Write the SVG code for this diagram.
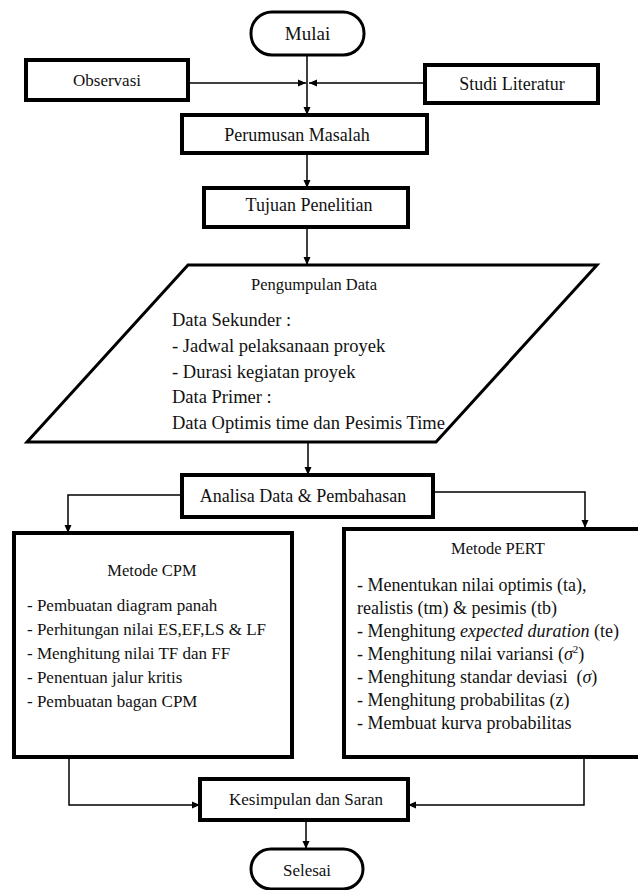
<svg xmlns="http://www.w3.org/2000/svg" width="638" height="890" viewBox="0 0 638 890">
<defs>
<marker id="ah" markerWidth="8" markerHeight="8" refX="8" refY="4" orient="auto" markerUnits="userSpaceOnUse">
<path d="M0,0.5 L8,4 L0,7.5 Z" fill="#000"/>
</marker>
<style>
.box{fill:#fff;stroke:#000;stroke-width:4}
.term{fill:#fff;stroke:#000;stroke-width:3}
.para{fill:#fff;stroke:#000;stroke-width:3}
.con{fill:none;stroke:#000;stroke-width:1.5}
.arr{marker-end:url(#ah)}
text{fill:#111}
.c{text-anchor:middle}
</style>
</defs>
<rect width="638" height="890" fill="#fff"/>
<g id="connectors">
<line class="con arr" x1="307" y1="55" x2="307" y2="115"/>
<line class="con arr" x1="188" y1="83" x2="306" y2="83"/>
<line class="con arr" x1="425" y1="83" x2="309" y2="83"/>
<line class="con arr" x1="307" y1="153" x2="307" y2="188"/>
<line class="con arr" x1="307" y1="227" x2="307" y2="265"/>
<line class="con arr" x1="308" y1="442" x2="308" y2="475"/>
<polyline class="con arr" points="182,495 68,495 68,533"/>
<polyline class="con arr" points="433,492 585,492 585,528"/>
<polyline class="con arr" points="69,757 69,805 200,805"/>
<polyline class="con arr" points="584,757 584,805 408,805"/>
<line class="con arr" x1="306" y1="820" x2="306" y2="849"/>
</g>
<g font-family="Liberation Serif, DejaVu Serif, serif">
<g id="mulai">
<rect class="term" x="251" y="12" width="113" height="43" rx="21" ry="21"/>
<text class="c" x="307.5" y="40" font-size="19">Mulai</text>
</g>
<g id="observasi">
<rect class="box" x="26" y="60" width="162" height="40"/>
<text class="c" x="107" y="86" font-size="17">Observasi</text>
</g>
<g id="studi-literatur">
<rect class="box" x="425" y="65" width="173" height="38"/>
<text class="c" x="512" y="90" font-size="18">Studi Literatur</text>
</g>
<g id="perumusan-masalah">
<rect class="box" x="182" y="115" width="245" height="38"/>
<text class="c" x="297" y="141" font-size="18">Perumusan Masalah</text>
</g>
<g id="tujuan-penelitian">
<rect class="box" x="204" y="188" width="204" height="39"/>
<text class="c" x="309" y="211" font-size="18">Tujuan Penelitian</text>
</g>
<g id="pengumpulan-data">
<polygon class="para" points="188,265 597,265 436,442 27,442"/>
<text class="c" x="314" y="290" font-size="16.5">Pengumpulan Data</text>
<text x="172" y="326" font-size="18.5">Data Sekunder :</text>
<text x="172" y="352" font-size="18.5">- Jadwal pelaksanaan proyek</text>
<text x="172" y="378" font-size="18.5">- Durasi kegiatan proyek</text>
<text x="172" y="403" font-size="18.5">Data Primer :</text>
<text x="172" y="429" font-size="18.5">Data Optimis time dan Pesimis Time</text>
</g>
<g id="analisa-data">
<rect class="box" x="182" y="475" width="251" height="42"/>
<text class="c" x="303" y="502" font-size="18">Analisa Data &amp; Pembahasan</text>
</g>
<g id="metode-cpm">
<rect class="box" x="14" y="533" width="278" height="224"/>
<text class="c" x="152" y="576" font-size="16.5">Metode CPM</text>
<text x="27" y="611" font-size="17">- Pembuatan diagram panah</text>
<text x="27" y="635" font-size="17">- Perhitungan nilai ES,EF,LS &amp; LF</text>
<text x="27" y="659" font-size="17">- Menghitung nilai TF dan FF</text>
<text x="27" y="683" font-size="17">- Penentuan jalur kritis</text>
<text x="27" y="707" font-size="17">- Pembuatan bagan CPM</text>
</g>
<g id="metode-pert">
<rect class="box" x="344" y="529" width="300" height="228"/>
<text class="c" x="498" y="554" font-size="16.5">Metode PERT</text>
<text x="357" y="591" font-size="18">- Menentukan nilai optimis (ta),</text>
<text x="357" y="614" font-size="18">realistis (tm) &amp; pesimis (tb)</text>
<text x="357" y="637" font-size="18">- Menghitung <tspan font-style="italic">expected duration</tspan> (te)</text>
<text x="357" y="660" font-size="18">- Menghitung nilai variansi (<tspan font-style="italic">σ</tspan><tspan font-size="11" dy="-7">2</tspan><tspan dy="7">)</tspan></text>
<text x="357" y="683" font-size="18" xml:space="preserve">- Menghitung standar deviasi  (<tspan font-style="italic">σ</tspan>)</text>
<text x="357" y="706" font-size="18">- Menghitung probabilitas (z)</text>
<text x="357" y="729" font-size="18">- Membuat kurva probabilitas</text>
</g>
<g id="kesimpulan">
<rect class="box" x="200" y="779" width="208" height="41"/>
<text class="c" x="306" y="805" font-size="17">Kesimpulan dan Saran</text>
</g>
<g id="selesai">
<rect class="term" x="251" y="849" width="112" height="40" rx="20" ry="20"/>
<text class="c" x="307" y="876" font-size="17">Selesai</text>
</g>
</g>
</svg>
